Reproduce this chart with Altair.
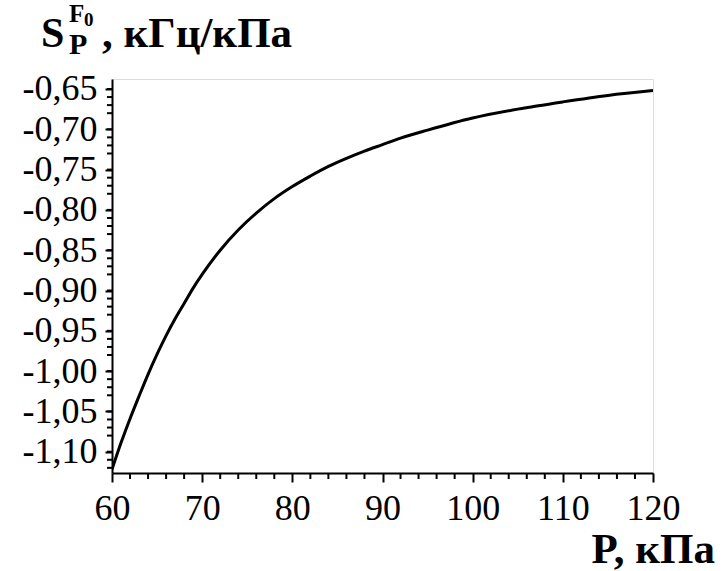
import altair as alt
import pandas as pd

# curve data
P = [60, 61, 62, 63, 64, 65, 66, 67, 68, 69, 70, 72, 74, 76, 78, 80, 82, 84, 86, 88, 90,
     92, 95, 100, 105, 110, 115, 120]
S = [-1.122, -1.089, -1.059, -1.031, -1.004, -0.979, -0.956, -0.935, -0.916, -0.897,
     -0.880, -0.850, -0.825, -0.804, -0.786, -0.771, -0.758, -0.746, -0.736, -0.727,
     -0.719, -0.711, -0.701, -0.686, -0.675, -0.666, -0.658, -0.652]

x_ticks = [60, 70, 80, 90, 100, 110, 120]
y_ticks = [-0.65, -0.70, -0.75, -0.80, -0.85, -0.90, -0.95, -1.00, -1.05, -1.10]
x_minor = [v for v in range(62, 120, 2) if v % 10 != 0]
y_minor = [round(-0.64 - 0.01 * i, 2) for i in range(49) if (i + 1) % 5 != 1]
y_minor = [v for v in y_minor if v >= -1.126]

df = pd.DataFrame({"P": P, "S": S})

X_DOM = [60, 120]
Y_DOM = [-1.1264, -0.6376]
xs = alt.Scale(domain=X_DOM, nice=False, zero=False)
ys = alt.Scale(domain=Y_DOM, nice=False, zero=False)

FONT = "Liberation Serif"

line = alt.Chart(df).mark_line(color="black", strokeWidth=3, interpolate="monotone", clip=True).encode(
    x=alt.X("P:Q", scale=xs, axis=alt.Axis(
        values=x_ticks, title=None, tickSize=9, tickWidth=2, tickColor="black",
        domainColor="black", domainWidth=2, labelFont=FONT, labelFontSize=36,
        labelColor="black", labelPadding=9, grid=False, labelFlush=False)),
    y=alt.Y("S:Q", scale=ys, axis=alt.Axis(
        values=y_ticks, title=None, tickSize=7, tickWidth=2, tickColor="black",
        domainColor="black", domainWidth=2, labelFont=FONT, labelFontSize=36,
        labelColor="black", labelPadding=8, grid=False, labelFlush=False,
        labelExpr="'-' + replace(format(abs(datum.value), '.2f'), '.', ',')")),
)

xminor = alt.Chart(pd.DataFrame({"v": x_minor})).mark_rule(color="black", strokeWidth=2).encode(
    x=alt.X("v:Q", scale=xs),
    y=alt.value(394), y2=alt.value(400),
)
yminor = alt.Chart(pd.DataFrame({"v": y_minor})).mark_rule(color="black", strokeWidth=2).encode(
    y=alt.Y("v:Q", scale=ys),
    x=alt.value(-5), x2=alt.value(0),
)

def txt(t, x, y, size, align="left"):
    return alt.Chart(pd.DataFrame({"t": [t]})).mark_text(
        font=FONT, fontWeight="bold", fontSize=size, align=align, baseline="alphabetic",
        color="black").encode(text="t:N", x=alt.value(x), y=alt.value(y))

labels = [
    txt("S", -71, -32, 42),
    txt("F", -43, -57, 25),
    txt("0", -28, -53, 19),
    txt("P", -43, -25, 30),
    txt(", кГц/кПа", -10, -32, 43),
    txt("P, кПа", 603, 484, 43, align="right"),
]

chart = alt.layer(line, xminor, yminor, *labels).properties(
    width=541, height=394,
    autosize=alt.AutoSizeParams(type="none"),
    padding={"left": 112, "top": 79, "right": 71, "bottom": 98},
).configure_view(stroke="black", strokeWidth=1.5).configure(background="white")

chart.save("out.html", embed_options={"renderer": "svg", "actions": False})
